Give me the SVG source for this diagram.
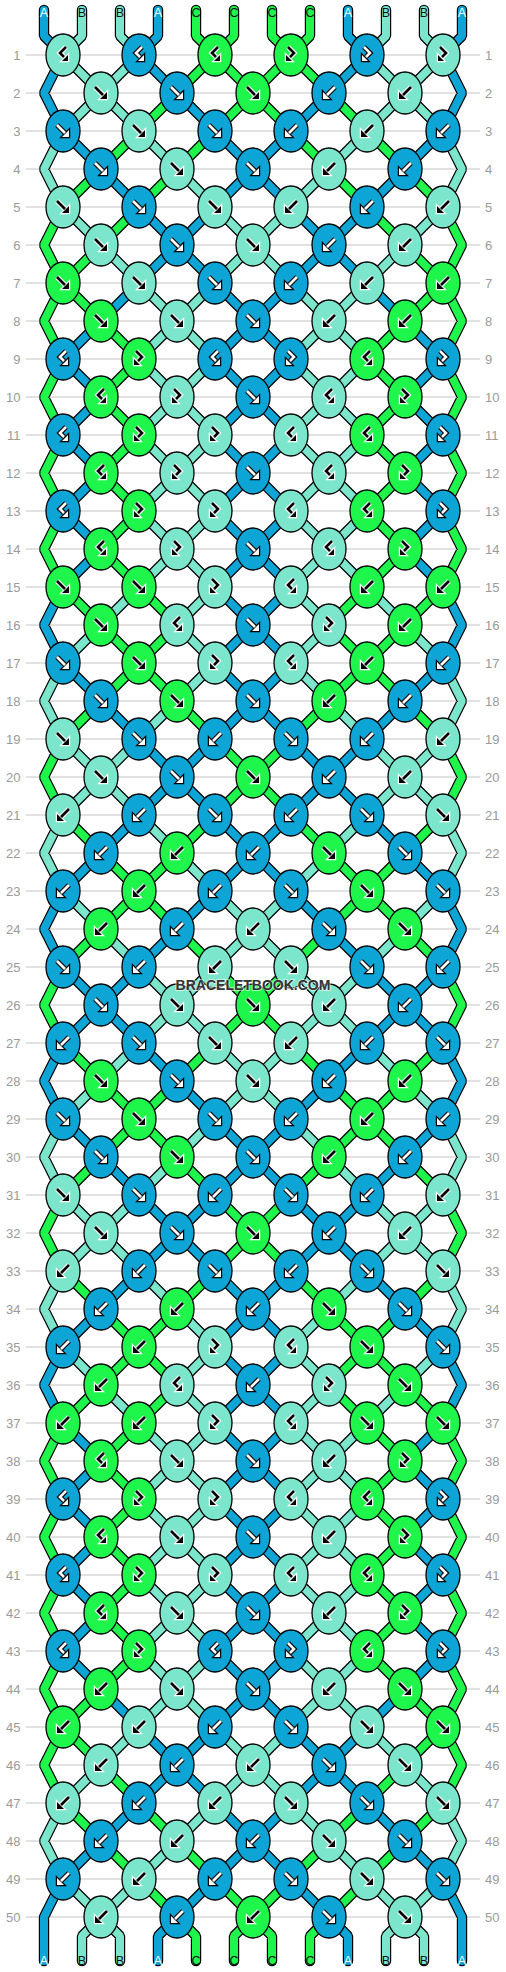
<svg xmlns="http://www.w3.org/2000/svg" xmlns:xlink="http://www.w3.org/1999/xlink" width="506" height="1972" viewBox="0 0 506 1972">
<style>
.a{fill:#0DA4D6}.b{fill:#7CE6CC}.c{fill:#1EF64B}
ellipse{stroke:#000;stroke-width:1.3}
.ol{fill:none;stroke:#000;stroke-width:10.4;stroke-linecap:round;stroke-linejoin:bevel}
.sa,.sb,.sc{fill:none;stroke-width:8;stroke-linecap:round;stroke-linejoin:bevel}
.sa{stroke:#0DA4D6}.sb{stroke:#7CE6CC}.sc{stroke:#1EF64B}
.so{fill:none;stroke:#000;stroke-width:5;stroke-linejoin:miter}
.ho{fill:#000;stroke:#000;stroke-width:2.4;stroke-linejoin:miter}
.si{fill:none;stroke:#fff;stroke-width:2.6;stroke-linejoin:miter}
.hi{fill:#fff}
.so2{fill:none;stroke:#fff;stroke-width:5;stroke-linejoin:miter}
.ho2{fill:#fff;stroke:#fff;stroke-width:2.4;stroke-linejoin:miter}
.si2{fill:none;stroke:#000;stroke-width:2.6;stroke-linejoin:miter}
.hi2{fill:#000}
.grid{fill:none;stroke:#c4c4c4;stroke-width:1}
.rl{font-family:"Liberation Sans",Arial,sans-serif;font-size:13px;fill:#9a9a9a}
.lt{font-family:"Liberation Sans",Arial,sans-serif;font-size:12.5px;text-anchor:middle}
.lw{fill:#fff}.lk{fill:#111}
.wm{font-family:"Liberation Sans",Arial,sans-serif;font-weight:bold;font-size:14px;fill:#333;text-anchor:middle;stroke:#fff;stroke-width:2;stroke-opacity:.6;paint-order:stroke}
</style>
<defs>
<path id="sF" d="M-6-6L2 2"/><path id="hF" d="M-1 6H6V-1Z"/>
<path id="sB" d="M6-6L-2 2"/><path id="hB" d="M1 6H-6V-1Z"/>
<path id="sFB" d="M-3-8L3-2L-1 2"/><path id="hFB" d="M1 6H-5V0Z"/>
<path id="sBF" d="M3-8L-3-2L1 2"/><path id="hBF" d="M-1 6H5V0Z"/>
<g id="wF"><use href="#sF" class="so"/><use href="#hF" class="ho"/><use href="#sF" class="si"/><use href="#hF" class="hi"/></g>
<g id="wB"><use href="#sB" class="so"/><use href="#hB" class="ho"/><use href="#sB" class="si"/><use href="#hB" class="hi"/></g>
<g id="wFB"><use href="#sFB" class="so"/><use href="#hFB" class="ho"/><use href="#sFB" class="si"/><use href="#hFB" class="hi"/></g>
<g id="wBF"><use href="#sBF" class="so"/><use href="#hBF" class="ho"/><use href="#sBF" class="si"/><use href="#hBF" class="hi"/></g>
<g id="kF"><use href="#sF" class="so2"/><use href="#hF" class="ho2"/><use href="#sF" class="si2"/><use href="#hF" class="hi2"/></g>
<g id="kB"><use href="#sB" class="so2"/><use href="#hB" class="ho2"/><use href="#sB" class="si2"/><use href="#hB" class="hi2"/></g>
<g id="kFB"><use href="#sFB" class="so2"/><use href="#hFB" class="ho2"/><use href="#sFB" class="si2"/><use href="#hFB" class="hi2"/></g>
<g id="kBF"><use href="#sBF" class="so2"/><use href="#hBF" class="ho2"/><use href="#sBF" class="si2"/><use href="#hBF" class="hi2"/></g>
<path id="pA" d="M44 10V36l19 19M158 10V36l-19 19M139 55l38 38M177 93l38 38M63 131l38 38M215 131l38 38M101 169l38 38M253 169l-38 38M139 207l38 38M215 207l-38 38M177 245l-38 38M177 245l38 38M139 283l-38 38M215 283l38 38M101 321l-38 38M253 321l-38 38M63 359l38 38M215 359l38 38M101 397l-38 38M253 397l-38 38M63 435l38 38M215 435l38 38M101 473l-38 38M253 473l-38 38M63 511l38 38M215 511l38 38M101 549l-38 38M253 549l-38 38M215 587l38 38M253 625l-38 38M63 663l38 38M215 663l38 38M101 701l38 38M253 701l-38 38M139 739l38 38M215 739l-38 38M177 777l-38 38M177 777l38 38M139 815l-38 38M215 815l38 38M101 853l-38 38M253 853l-38 38M215 891l-38 38M177 929l-38 38M63 967l38 38M139 967l-38 38M101 1005l-38 38M101 1005l38 38M139 1043l38 38M177 1081l38 38M63 1119l38 38M215 1119l38 38M101 1157l38 38M253 1157l-38 38M139 1195l38 38M215 1195l-38 38M177 1233l-38 38M177 1233l38 38M139 1271l-38 38M215 1271l38 38M101 1309l-38 38M253 1309l-38 38M215 1347l38 38M253 1385l-38 38M63 1423l38 38M215 1423l38 38M101 1461l-38 38M253 1461l-38 38M63 1499l38 38M215 1499l38 38M101 1537l-38 38M253 1537l-38 38M63 1575l38 38M215 1575l38 38M101 1613l-38 38M253 1613l-38 38M63 1651l38 38M215 1651l38 38M101 1689l38 38M253 1689l-38 38M139 1727l38 38M215 1727l-38 38M177 1765l-38 38M177 1765l38 38M139 1803l-38 38M215 1803l38 38M101 1841l-38 38M253 1841l-38 38M215 1879l-38 38M177 1917l-19 19V1961M63 55l-19 38l19 38M63 587l-19 38l19 38M63 891l-19 38l19 38M63 1043l-19 38l19 38M63 1347l-19 38l19 38M63 1879l-19 38V1961"/>
<path id="pB" d="M82 10V36l-19 19M120 10V36l19 19M63 55l38 38M139 55l-38 38M101 93l-38 38M101 93l38 38M139 131l38 38M177 169l38 38M63 207l38 38M215 207l38 38M101 245l38 38M253 245l-38 38M139 283l38 38M215 283l-38 38M177 321l-38 38M177 321l38 38M139 359l38 38M215 359l-38 38M177 397l-38 38M177 397l38 38M139 435l38 38M215 435l-38 38M177 473l-38 38M177 473l38 38M139 511l38 38M215 511l-38 38M177 549l-38 38M177 549l38 38M139 587l-38 38M215 587l-38 38M101 625l-38 38M177 625l38 38M215 663l-38 38M177 701l-38 38M63 739l38 38M139 739l-38 38M101 777l-38 38M101 777l38 38M139 815l38 38M177 853l38 38M63 891l38 38M215 891l38 38M101 929l38 38M253 929l-38 38M139 967l38 38M215 967l-38 38M177 1005l-38 38M177 1005l38 38M139 1043l-38 38M215 1043l38 38M101 1081l-38 38M253 1081l-38 38M215 1119l-38 38M177 1157l-38 38M63 1195l38 38M139 1195l-38 38M101 1233l-38 38M101 1233l38 38M139 1271l38 38M177 1309l38 38M63 1347l38 38M215 1347l-38 38M101 1385l38 38M177 1385l38 38M139 1423l38 38M215 1423l-38 38M177 1461l-38 38M177 1461l38 38M139 1499l38 38M215 1499l-38 38M177 1537l-38 38M177 1537l38 38M139 1575l38 38M215 1575l-38 38M177 1613l-38 38M177 1613l38 38M139 1651l38 38M215 1651l-38 38M177 1689l-38 38M177 1689l38 38M139 1727l-38 38M215 1727l38 38M101 1765l-38 38M253 1765l-38 38M215 1803l-38 38M177 1841l-38 38M63 1879l38 38M139 1879l-38 38M101 1917l-19 19V1961M101 1917l19 19V1961M63 131l-19 38l19 38M63 663l-19 38l19 38M63 815l-19 38l19 38M63 1119l-19 38l19 38M63 1271l-19 38l19 38M63 1803l-19 38l19 38"/>
<path id="pC" d="M196 10V36l19 19M234 10V36l-19 19M215 55l-38 38M215 55l38 38M177 93l-38 38M253 93l-38 38M139 131l-38 38M215 131l-38 38M101 169l-38 38M177 169l-38 38M139 207l-38 38M101 245l-38 38M63 283l38 38M101 321l38 38M139 359l-38 38M101 397l38 38M139 435l-38 38M101 473l38 38M139 511l-38 38M101 549l38 38M63 587l38 38M139 587l38 38M101 625l38 38M177 625l-38 38M139 663l-38 38M139 663l38 38M101 701l-38 38M177 701l38 38M215 739l38 38M253 777l-38 38M63 815l38 38M215 815l-38 38M101 853l38 38M177 853l-38 38M139 891l-38 38M139 891l38 38M101 929l-38 38M177 929l38 38M215 967l38 38M253 1005l-38 38M63 1043l38 38M215 1043l-38 38M101 1081l38 38M177 1081l-38 38M139 1119l-38 38M139 1119l38 38M101 1157l-38 38M177 1157l38 38M215 1195l38 38M253 1233l-38 38M63 1271l38 38M215 1271l-38 38M101 1309l38 38M177 1309l-38 38M139 1347l-38 38M139 1347l38 38M101 1385l-38 38M177 1385l-38 38M139 1423l-38 38M101 1461l38 38M139 1499l-38 38M101 1537l38 38M139 1575l-38 38M101 1613l38 38M139 1651l-38 38M101 1689l-38 38M63 1727l38 38M101 1765l38 38M63 1803l38 38M139 1803l38 38M101 1841l38 38M177 1841l38 38M139 1879l38 38M215 1879l38 38M177 1917l19 19V1961M253 1917l-19 19V1961M63 207l-19 38l19 38M63 283l-19 38l19 38M63 359l-19 38l19 38M63 435l-19 38l19 38M63 511l-19 38l19 38M63 739l-19 38l19 38M63 967l-19 38l19 38M63 1195l-19 38l19 38M63 1423l-19 38l19 38M63 1499l-19 38l19 38M63 1575l-19 38l19 38M63 1651l-19 38l19 38M63 1727l-19 38l19 38"/>
</defs>
<rect width="506" height="1972" fill="#fff"/>
<g id="rows">
<path class="grid" d="M26 55H480M26 93H480M26 131H480M26 169H480M26 207H480M26 245H480M26 283H480M26 321H480M26 359H480M26 397H480M26 435H480M26 473H480M26 511H480M26 549H480M26 587H480M26 625H480M26 663H480M26 701H480M26 739H480M26 777H480M26 815H480M26 853H480M26 891H480M26 929H480M26 967H480M26 1005H480M26 1043H480M26 1081H480M26 1119H480M26 1157H480M26 1195H480M26 1233H480M26 1271H480M26 1309H480M26 1347H480M26 1385H480M26 1423H480M26 1461H480M26 1499H480M26 1537H480M26 1575H480M26 1613H480M26 1651H480M26 1689H480M26 1727H480M26 1765H480M26 1803H480M26 1841H480M26 1879H480M26 1917H480"/>
<g class="rl" text-anchor="end">
<text x="20.5" y="60">1</text><text x="20.5" y="98">2</text><text x="20.5" y="136">3</text><text x="20.5" y="174">4</text><text x="20.5" y="212">5</text><text x="20.5" y="250">6</text><text x="20.5" y="288">7</text><text x="20.5" y="326">8</text><text x="20.5" y="364">9</text><text x="20.5" y="402">10</text><text x="20.5" y="440">11</text><text x="20.5" y="478">12</text><text x="20.5" y="516">13</text><text x="20.5" y="554">14</text><text x="20.5" y="592">15</text><text x="20.5" y="630">16</text><text x="20.5" y="668">17</text><text x="20.5" y="706">18</text><text x="20.5" y="744">19</text><text x="20.5" y="782">20</text><text x="20.5" y="820">21</text><text x="20.5" y="858">22</text><text x="20.5" y="896">23</text><text x="20.5" y="934">24</text><text x="20.5" y="972">25</text><text x="20.5" y="1010">26</text><text x="20.5" y="1048">27</text><text x="20.5" y="1086">28</text><text x="20.5" y="1124">29</text><text x="20.5" y="1162">30</text><text x="20.5" y="1200">31</text><text x="20.5" y="1238">32</text><text x="20.5" y="1276">33</text><text x="20.5" y="1314">34</text><text x="20.5" y="1352">35</text><text x="20.5" y="1390">36</text><text x="20.5" y="1428">37</text><text x="20.5" y="1466">38</text><text x="20.5" y="1504">39</text><text x="20.5" y="1542">40</text><text x="20.5" y="1580">41</text><text x="20.5" y="1618">42</text><text x="20.5" y="1656">43</text><text x="20.5" y="1694">44</text><text x="20.5" y="1732">45</text><text x="20.5" y="1770">46</text><text x="20.5" y="1808">47</text><text x="20.5" y="1846">48</text><text x="20.5" y="1884">49</text><text x="20.5" y="1922">50</text>
</g>
<g class="rl">
<text x="485" y="60">1</text><text x="485" y="98">2</text><text x="485" y="136">3</text><text x="485" y="174">4</text><text x="485" y="212">5</text><text x="485" y="250">6</text><text x="485" y="288">7</text><text x="485" y="326">8</text><text x="485" y="364">9</text><text x="485" y="402">10</text><text x="485" y="440">11</text><text x="485" y="478">12</text><text x="485" y="516">13</text><text x="485" y="554">14</text><text x="485" y="592">15</text><text x="485" y="630">16</text><text x="485" y="668">17</text><text x="485" y="706">18</text><text x="485" y="744">19</text><text x="485" y="782">20</text><text x="485" y="820">21</text><text x="485" y="858">22</text><text x="485" y="896">23</text><text x="485" y="934">24</text><text x="485" y="972">25</text><text x="485" y="1010">26</text><text x="485" y="1048">27</text><text x="485" y="1086">28</text><text x="485" y="1124">29</text><text x="485" y="1162">30</text><text x="485" y="1200">31</text><text x="485" y="1238">32</text><text x="485" y="1276">33</text><text x="485" y="1314">34</text><text x="485" y="1352">35</text><text x="485" y="1390">36</text><text x="485" y="1428">37</text><text x="485" y="1466">38</text><text x="485" y="1504">39</text><text x="485" y="1542">40</text><text x="485" y="1580">41</text><text x="485" y="1618">42</text><text x="485" y="1656">43</text><text x="485" y="1694">44</text><text x="485" y="1732">45</text><text x="485" y="1770">46</text><text x="485" y="1808">47</text><text x="485" y="1846">48</text><text x="485" y="1884">49</text><text x="485" y="1922">50</text>
</g>
</g>
<g id="connectors">
<g id="connL">
<use href="#pA" class="ol"/><use href="#pB" class="ol"/><use href="#pC" class="ol"/>
<use href="#pA" class="sa"/><use href="#pB" class="sb"/><use href="#pC" class="sc"/>
</g>
<use href="#connL" transform="matrix(-1 0 0 1 506 0)"/>
</g>
<g id="knots">
<g id="k1_1" transform="translate(63 55)"><ellipse class="b" rx="17" ry="21"/><use href="#kBF"/></g>
<g id="k1_2" transform="translate(139 55)"><ellipse class="a" rx="17" ry="21"/><use href="#wBF"/></g>
<g id="k1_3" transform="translate(215 55)"><ellipse class="c" rx="17" ry="21"/><use href="#kBF"/></g>
<g id="k1_4" transform="translate(291 55)"><ellipse class="c" rx="17" ry="21"/><use href="#kFB"/></g>
<g id="k1_5" transform="translate(367 55)"><ellipse class="a" rx="17" ry="21"/><use href="#wFB"/></g>
<g id="k1_6" transform="translate(443 55)"><ellipse class="b" rx="17" ry="21"/><use href="#kFB"/></g>
<g id="k2_1" transform="translate(101 93)"><ellipse class="b" rx="17" ry="21"/><use href="#kF"/></g>
<g id="k2_2" transform="translate(177 93)"><ellipse class="a" rx="17" ry="21"/><use href="#wF"/></g>
<g id="k2_3" transform="translate(253 93)"><ellipse class="c" rx="17" ry="21"/><use href="#kF"/></g>
<g id="k2_4" transform="translate(329 93)"><ellipse class="a" rx="17" ry="21"/><use href="#wB"/></g>
<g id="k2_5" transform="translate(405 93)"><ellipse class="b" rx="17" ry="21"/><use href="#kB"/></g>
<g id="k3_1" transform="translate(63 131)"><ellipse class="a" rx="17" ry="21"/><use href="#wF"/></g>
<g id="k3_2" transform="translate(139 131)"><ellipse class="b" rx="17" ry="21"/><use href="#kF"/></g>
<g id="k3_3" transform="translate(215 131)"><ellipse class="a" rx="17" ry="21"/><use href="#wF"/></g>
<g id="k3_4" transform="translate(291 131)"><ellipse class="a" rx="17" ry="21"/><use href="#wB"/></g>
<g id="k3_5" transform="translate(367 131)"><ellipse class="b" rx="17" ry="21"/><use href="#kB"/></g>
<g id="k3_6" transform="translate(443 131)"><ellipse class="a" rx="17" ry="21"/><use href="#wB"/></g>
<g id="k4_1" transform="translate(101 169)"><ellipse class="a" rx="17" ry="21"/><use href="#wF"/></g>
<g id="k4_2" transform="translate(177 169)"><ellipse class="b" rx="17" ry="21"/><use href="#kF"/></g>
<g id="k4_3" transform="translate(253 169)"><ellipse class="a" rx="17" ry="21"/><use href="#wF"/></g>
<g id="k4_4" transform="translate(329 169)"><ellipse class="b" rx="17" ry="21"/><use href="#kB"/></g>
<g id="k4_5" transform="translate(405 169)"><ellipse class="a" rx="17" ry="21"/><use href="#wB"/></g>
<g id="k5_1" transform="translate(63 207)"><ellipse class="b" rx="17" ry="21"/><use href="#kF"/></g>
<g id="k5_2" transform="translate(139 207)"><ellipse class="a" rx="17" ry="21"/><use href="#wF"/></g>
<g id="k5_3" transform="translate(215 207)"><ellipse class="b" rx="17" ry="21"/><use href="#kF"/></g>
<g id="k5_4" transform="translate(291 207)"><ellipse class="b" rx="17" ry="21"/><use href="#kB"/></g>
<g id="k5_5" transform="translate(367 207)"><ellipse class="a" rx="17" ry="21"/><use href="#wB"/></g>
<g id="k5_6" transform="translate(443 207)"><ellipse class="b" rx="17" ry="21"/><use href="#kB"/></g>
<g id="k6_1" transform="translate(101 245)"><ellipse class="b" rx="17" ry="21"/><use href="#kF"/></g>
<g id="k6_2" transform="translate(177 245)"><ellipse class="a" rx="17" ry="21"/><use href="#wF"/></g>
<g id="k6_3" transform="translate(253 245)"><ellipse class="b" rx="17" ry="21"/><use href="#kF"/></g>
<g id="k6_4" transform="translate(329 245)"><ellipse class="a" rx="17" ry="21"/><use href="#wB"/></g>
<g id="k6_5" transform="translate(405 245)"><ellipse class="b" rx="17" ry="21"/><use href="#kB"/></g>
<g id="k7_1" transform="translate(63 283)"><ellipse class="c" rx="17" ry="21"/><use href="#kF"/></g>
<g id="k7_2" transform="translate(139 283)"><ellipse class="b" rx="17" ry="21"/><use href="#kF"/></g>
<g id="k7_3" transform="translate(215 283)"><ellipse class="a" rx="17" ry="21"/><use href="#wF"/></g>
<g id="k7_4" transform="translate(291 283)"><ellipse class="a" rx="17" ry="21"/><use href="#wB"/></g>
<g id="k7_5" transform="translate(367 283)"><ellipse class="b" rx="17" ry="21"/><use href="#kB"/></g>
<g id="k7_6" transform="translate(443 283)"><ellipse class="c" rx="17" ry="21"/><use href="#kB"/></g>
<g id="k8_1" transform="translate(101 321)"><ellipse class="c" rx="17" ry="21"/><use href="#kF"/></g>
<g id="k8_2" transform="translate(177 321)"><ellipse class="b" rx="17" ry="21"/><use href="#kF"/></g>
<g id="k8_3" transform="translate(253 321)"><ellipse class="a" rx="17" ry="21"/><use href="#wF"/></g>
<g id="k8_4" transform="translate(329 321)"><ellipse class="b" rx="17" ry="21"/><use href="#kB"/></g>
<g id="k8_5" transform="translate(405 321)"><ellipse class="c" rx="17" ry="21"/><use href="#kB"/></g>
<g id="k9_1" transform="translate(63 359)"><ellipse class="a" rx="17" ry="21"/><use href="#wBF"/></g>
<g id="k9_2" transform="translate(139 359)"><ellipse class="c" rx="17" ry="21"/><use href="#kFB"/></g>
<g id="k9_3" transform="translate(215 359)"><ellipse class="a" rx="17" ry="21"/><use href="#wBF"/></g>
<g id="k9_4" transform="translate(291 359)"><ellipse class="a" rx="17" ry="21"/><use href="#wFB"/></g>
<g id="k9_5" transform="translate(367 359)"><ellipse class="c" rx="17" ry="21"/><use href="#kBF"/></g>
<g id="k9_6" transform="translate(443 359)"><ellipse class="a" rx="17" ry="21"/><use href="#wFB"/></g>
<g id="k10_1" transform="translate(101 397)"><ellipse class="c" rx="17" ry="21"/><use href="#kBF"/></g>
<g id="k10_2" transform="translate(177 397)"><ellipse class="b" rx="17" ry="21"/><use href="#kFB"/></g>
<g id="k10_3" transform="translate(253 397)"><ellipse class="a" rx="17" ry="21"/><use href="#wF"/></g>
<g id="k10_4" transform="translate(329 397)"><ellipse class="b" rx="17" ry="21"/><use href="#kBF"/></g>
<g id="k10_5" transform="translate(405 397)"><ellipse class="c" rx="17" ry="21"/><use href="#kFB"/></g>
<g id="k11_1" transform="translate(63 435)"><ellipse class="a" rx="17" ry="21"/><use href="#wBF"/></g>
<g id="k11_2" transform="translate(139 435)"><ellipse class="c" rx="17" ry="21"/><use href="#kFB"/></g>
<g id="k11_3" transform="translate(215 435)"><ellipse class="b" rx="17" ry="21"/><use href="#kFB"/></g>
<g id="k11_4" transform="translate(291 435)"><ellipse class="b" rx="17" ry="21"/><use href="#kBF"/></g>
<g id="k11_5" transform="translate(367 435)"><ellipse class="c" rx="17" ry="21"/><use href="#kBF"/></g>
<g id="k11_6" transform="translate(443 435)"><ellipse class="a" rx="17" ry="21"/><use href="#wFB"/></g>
<g id="k12_1" transform="translate(101 473)"><ellipse class="c" rx="17" ry="21"/><use href="#kBF"/></g>
<g id="k12_2" transform="translate(177 473)"><ellipse class="b" rx="17" ry="21"/><use href="#kFB"/></g>
<g id="k12_3" transform="translate(253 473)"><ellipse class="a" rx="17" ry="21"/><use href="#wF"/></g>
<g id="k12_4" transform="translate(329 473)"><ellipse class="b" rx="17" ry="21"/><use href="#kBF"/></g>
<g id="k12_5" transform="translate(405 473)"><ellipse class="c" rx="17" ry="21"/><use href="#kFB"/></g>
<g id="k13_1" transform="translate(63 511)"><ellipse class="a" rx="17" ry="21"/><use href="#wBF"/></g>
<g id="k13_2" transform="translate(139 511)"><ellipse class="c" rx="17" ry="21"/><use href="#kFB"/></g>
<g id="k13_3" transform="translate(215 511)"><ellipse class="b" rx="17" ry="21"/><use href="#kFB"/></g>
<g id="k13_4" transform="translate(291 511)"><ellipse class="b" rx="17" ry="21"/><use href="#kBF"/></g>
<g id="k13_5" transform="translate(367 511)"><ellipse class="c" rx="17" ry="21"/><use href="#kBF"/></g>
<g id="k13_6" transform="translate(443 511)"><ellipse class="a" rx="17" ry="21"/><use href="#wFB"/></g>
<g id="k14_1" transform="translate(101 549)"><ellipse class="c" rx="17" ry="21"/><use href="#kBF"/></g>
<g id="k14_2" transform="translate(177 549)"><ellipse class="b" rx="17" ry="21"/><use href="#kFB"/></g>
<g id="k14_3" transform="translate(253 549)"><ellipse class="a" rx="17" ry="21"/><use href="#wF"/></g>
<g id="k14_4" transform="translate(329 549)"><ellipse class="b" rx="17" ry="21"/><use href="#kBF"/></g>
<g id="k14_5" transform="translate(405 549)"><ellipse class="c" rx="17" ry="21"/><use href="#kFB"/></g>
<g id="k15_1" transform="translate(63 587)"><ellipse class="c" rx="17" ry="21"/><use href="#kF"/></g>
<g id="k15_2" transform="translate(139 587)"><ellipse class="c" rx="17" ry="21"/><use href="#kF"/></g>
<g id="k15_3" transform="translate(215 587)"><ellipse class="b" rx="17" ry="21"/><use href="#kFB"/></g>
<g id="k15_4" transform="translate(291 587)"><ellipse class="b" rx="17" ry="21"/><use href="#kBF"/></g>
<g id="k15_5" transform="translate(367 587)"><ellipse class="c" rx="17" ry="21"/><use href="#kB"/></g>
<g id="k15_6" transform="translate(443 587)"><ellipse class="c" rx="17" ry="21"/><use href="#kB"/></g>
<g id="k16_1" transform="translate(101 625)"><ellipse class="c" rx="17" ry="21"/><use href="#kF"/></g>
<g id="k16_2" transform="translate(177 625)"><ellipse class="b" rx="17" ry="21"/><use href="#kBF"/></g>
<g id="k16_3" transform="translate(253 625)"><ellipse class="a" rx="17" ry="21"/><use href="#wF"/></g>
<g id="k16_4" transform="translate(329 625)"><ellipse class="b" rx="17" ry="21"/><use href="#kFB"/></g>
<g id="k16_5" transform="translate(405 625)"><ellipse class="c" rx="17" ry="21"/><use href="#kB"/></g>
<g id="k17_1" transform="translate(63 663)"><ellipse class="a" rx="17" ry="21"/><use href="#wF"/></g>
<g id="k17_2" transform="translate(139 663)"><ellipse class="c" rx="17" ry="21"/><use href="#kF"/></g>
<g id="k17_3" transform="translate(215 663)"><ellipse class="b" rx="17" ry="21"/><use href="#kFB"/></g>
<g id="k17_4" transform="translate(291 663)"><ellipse class="b" rx="17" ry="21"/><use href="#kBF"/></g>
<g id="k17_5" transform="translate(367 663)"><ellipse class="c" rx="17" ry="21"/><use href="#kB"/></g>
<g id="k17_6" transform="translate(443 663)"><ellipse class="a" rx="17" ry="21"/><use href="#wB"/></g>
<g id="k18_1" transform="translate(101 701)"><ellipse class="a" rx="17" ry="21"/><use href="#wF"/></g>
<g id="k18_2" transform="translate(177 701)"><ellipse class="c" rx="17" ry="21"/><use href="#kF"/></g>
<g id="k18_3" transform="translate(253 701)"><ellipse class="a" rx="17" ry="21"/><use href="#wF"/></g>
<g id="k18_4" transform="translate(329 701)"><ellipse class="c" rx="17" ry="21"/><use href="#kB"/></g>
<g id="k18_5" transform="translate(405 701)"><ellipse class="a" rx="17" ry="21"/><use href="#wB"/></g>
<g id="k19_1" transform="translate(63 739)"><ellipse class="b" rx="17" ry="21"/><use href="#kF"/></g>
<g id="k19_2" transform="translate(139 739)"><ellipse class="a" rx="17" ry="21"/><use href="#wF"/></g>
<g id="k19_3" transform="translate(215 739)"><ellipse class="a" rx="17" ry="21"/><use href="#wB"/></g>
<g id="k19_4" transform="translate(291 739)"><ellipse class="a" rx="17" ry="21"/><use href="#wF"/></g>
<g id="k19_5" transform="translate(367 739)"><ellipse class="a" rx="17" ry="21"/><use href="#wB"/></g>
<g id="k19_6" transform="translate(443 739)"><ellipse class="b" rx="17" ry="21"/><use href="#kB"/></g>
<g id="k20_1" transform="translate(101 777)"><ellipse class="b" rx="17" ry="21"/><use href="#kF"/></g>
<g id="k20_2" transform="translate(177 777)"><ellipse class="a" rx="17" ry="21"/><use href="#wF"/></g>
<g id="k20_3" transform="translate(253 777)"><ellipse class="c" rx="17" ry="21"/><use href="#kF"/></g>
<g id="k20_4" transform="translate(329 777)"><ellipse class="a" rx="17" ry="21"/><use href="#wB"/></g>
<g id="k20_5" transform="translate(405 777)"><ellipse class="b" rx="17" ry="21"/><use href="#kB"/></g>
<g id="k21_1" transform="translate(63 815)"><ellipse class="b" rx="17" ry="21"/><use href="#kB"/></g>
<g id="k21_2" transform="translate(139 815)"><ellipse class="a" rx="17" ry="21"/><use href="#wB"/></g>
<g id="k21_3" transform="translate(215 815)"><ellipse class="a" rx="17" ry="21"/><use href="#wF"/></g>
<g id="k21_4" transform="translate(291 815)"><ellipse class="a" rx="17" ry="21"/><use href="#wB"/></g>
<g id="k21_5" transform="translate(367 815)"><ellipse class="a" rx="17" ry="21"/><use href="#wF"/></g>
<g id="k21_6" transform="translate(443 815)"><ellipse class="b" rx="17" ry="21"/><use href="#kF"/></g>
<g id="k22_1" transform="translate(101 853)"><ellipse class="a" rx="17" ry="21"/><use href="#wB"/></g>
<g id="k22_2" transform="translate(177 853)"><ellipse class="c" rx="17" ry="21"/><use href="#kB"/></g>
<g id="k22_3" transform="translate(253 853)"><ellipse class="a" rx="17" ry="21"/><use href="#wB"/></g>
<g id="k22_4" transform="translate(329 853)"><ellipse class="c" rx="17" ry="21"/><use href="#kF"/></g>
<g id="k22_5" transform="translate(405 853)"><ellipse class="a" rx="17" ry="21"/><use href="#wF"/></g>
<g id="k23_1" transform="translate(63 891)"><ellipse class="a" rx="17" ry="21"/><use href="#wB"/></g>
<g id="k23_2" transform="translate(139 891)"><ellipse class="c" rx="17" ry="21"/><use href="#kB"/></g>
<g id="k23_3" transform="translate(215 891)"><ellipse class="a" rx="17" ry="21"/><use href="#wB"/></g>
<g id="k23_4" transform="translate(291 891)"><ellipse class="a" rx="17" ry="21"/><use href="#wF"/></g>
<g id="k23_5" transform="translate(367 891)"><ellipse class="c" rx="17" ry="21"/><use href="#kF"/></g>
<g id="k23_6" transform="translate(443 891)"><ellipse class="a" rx="17" ry="21"/><use href="#wF"/></g>
<g id="k24_1" transform="translate(101 929)"><ellipse class="c" rx="17" ry="21"/><use href="#kB"/></g>
<g id="k24_2" transform="translate(177 929)"><ellipse class="a" rx="17" ry="21"/><use href="#wB"/></g>
<g id="k24_3" transform="translate(253 929)"><ellipse class="b" rx="17" ry="21"/><use href="#kB"/></g>
<g id="k24_4" transform="translate(329 929)"><ellipse class="a" rx="17" ry="21"/><use href="#wF"/></g>
<g id="k24_5" transform="translate(405 929)"><ellipse class="c" rx="17" ry="21"/><use href="#kF"/></g>
<g id="k25_1" transform="translate(63 967)"><ellipse class="a" rx="17" ry="21"/><use href="#wF"/></g>
<g id="k25_2" transform="translate(139 967)"><ellipse class="a" rx="17" ry="21"/><use href="#wB"/></g>
<g id="k25_3" transform="translate(215 967)"><ellipse class="b" rx="17" ry="21"/><use href="#kB"/></g>
<g id="k25_4" transform="translate(291 967)"><ellipse class="b" rx="17" ry="21"/><use href="#kF"/></g>
<g id="k25_5" transform="translate(367 967)"><ellipse class="a" rx="17" ry="21"/><use href="#wF"/></g>
<g id="k25_6" transform="translate(443 967)"><ellipse class="a" rx="17" ry="21"/><use href="#wB"/></g>
<g id="k26_1" transform="translate(101 1005)"><ellipse class="a" rx="17" ry="21"/><use href="#wF"/></g>
<g id="k26_2" transform="translate(177 1005)"><ellipse class="b" rx="17" ry="21"/><use href="#kF"/></g>
<g id="k26_3" transform="translate(253 1005)"><ellipse class="c" rx="17" ry="21"/><use href="#kF"/></g>
<g id="k26_4" transform="translate(329 1005)"><ellipse class="b" rx="17" ry="21"/><use href="#kB"/></g>
<g id="k26_5" transform="translate(405 1005)"><ellipse class="a" rx="17" ry="21"/><use href="#wB"/></g>
<g id="k27_1" transform="translate(63 1043)"><ellipse class="a" rx="17" ry="21"/><use href="#wB"/></g>
<g id="k27_2" transform="translate(139 1043)"><ellipse class="a" rx="17" ry="21"/><use href="#wF"/></g>
<g id="k27_3" transform="translate(215 1043)"><ellipse class="b" rx="17" ry="21"/><use href="#kF"/></g>
<g id="k27_4" transform="translate(291 1043)"><ellipse class="b" rx="17" ry="21"/><use href="#kB"/></g>
<g id="k27_5" transform="translate(367 1043)"><ellipse class="a" rx="17" ry="21"/><use href="#wB"/></g>
<g id="k27_6" transform="translate(443 1043)"><ellipse class="a" rx="17" ry="21"/><use href="#wF"/></g>
<g id="k28_1" transform="translate(101 1081)"><ellipse class="c" rx="17" ry="21"/><use href="#kF"/></g>
<g id="k28_2" transform="translate(177 1081)"><ellipse class="a" rx="17" ry="21"/><use href="#wF"/></g>
<g id="k28_3" transform="translate(253 1081)"><ellipse class="b" rx="17" ry="21"/><use href="#kF"/></g>
<g id="k28_4" transform="translate(329 1081)"><ellipse class="a" rx="17" ry="21"/><use href="#wB"/></g>
<g id="k28_5" transform="translate(405 1081)"><ellipse class="c" rx="17" ry="21"/><use href="#kB"/></g>
<g id="k29_1" transform="translate(63 1119)"><ellipse class="a" rx="17" ry="21"/><use href="#wF"/></g>
<g id="k29_2" transform="translate(139 1119)"><ellipse class="c" rx="17" ry="21"/><use href="#kF"/></g>
<g id="k29_3" transform="translate(215 1119)"><ellipse class="a" rx="17" ry="21"/><use href="#wF"/></g>
<g id="k29_4" transform="translate(291 1119)"><ellipse class="a" rx="17" ry="21"/><use href="#wB"/></g>
<g id="k29_5" transform="translate(367 1119)"><ellipse class="c" rx="17" ry="21"/><use href="#kB"/></g>
<g id="k29_6" transform="translate(443 1119)"><ellipse class="a" rx="17" ry="21"/><use href="#wB"/></g>
<g id="k30_1" transform="translate(101 1157)"><ellipse class="a" rx="17" ry="21"/><use href="#wF"/></g>
<g id="k30_2" transform="translate(177 1157)"><ellipse class="c" rx="17" ry="21"/><use href="#kF"/></g>
<g id="k30_3" transform="translate(253 1157)"><ellipse class="a" rx="17" ry="21"/><use href="#wF"/></g>
<g id="k30_4" transform="translate(329 1157)"><ellipse class="c" rx="17" ry="21"/><use href="#kB"/></g>
<g id="k30_5" transform="translate(405 1157)"><ellipse class="a" rx="17" ry="21"/><use href="#wB"/></g>
<g id="k31_1" transform="translate(63 1195)"><ellipse class="b" rx="17" ry="21"/><use href="#kF"/></g>
<g id="k31_2" transform="translate(139 1195)"><ellipse class="a" rx="17" ry="21"/><use href="#wF"/></g>
<g id="k31_3" transform="translate(215 1195)"><ellipse class="a" rx="17" ry="21"/><use href="#wB"/></g>
<g id="k31_4" transform="translate(291 1195)"><ellipse class="a" rx="17" ry="21"/><use href="#wF"/></g>
<g id="k31_5" transform="translate(367 1195)"><ellipse class="a" rx="17" ry="21"/><use href="#wB"/></g>
<g id="k31_6" transform="translate(443 1195)"><ellipse class="b" rx="17" ry="21"/><use href="#kB"/></g>
<g id="k32_1" transform="translate(101 1233)"><ellipse class="b" rx="17" ry="21"/><use href="#kF"/></g>
<g id="k32_2" transform="translate(177 1233)"><ellipse class="a" rx="17" ry="21"/><use href="#wF"/></g>
<g id="k32_3" transform="translate(253 1233)"><ellipse class="c" rx="17" ry="21"/><use href="#kF"/></g>
<g id="k32_4" transform="translate(329 1233)"><ellipse class="a" rx="17" ry="21"/><use href="#wB"/></g>
<g id="k32_5" transform="translate(405 1233)"><ellipse class="b" rx="17" ry="21"/><use href="#kB"/></g>
<g id="k33_1" transform="translate(63 1271)"><ellipse class="b" rx="17" ry="21"/><use href="#kB"/></g>
<g id="k33_2" transform="translate(139 1271)"><ellipse class="a" rx="17" ry="21"/><use href="#wB"/></g>
<g id="k33_3" transform="translate(215 1271)"><ellipse class="a" rx="17" ry="21"/><use href="#wF"/></g>
<g id="k33_4" transform="translate(291 1271)"><ellipse class="a" rx="17" ry="21"/><use href="#wB"/></g>
<g id="k33_5" transform="translate(367 1271)"><ellipse class="a" rx="17" ry="21"/><use href="#wF"/></g>
<g id="k33_6" transform="translate(443 1271)"><ellipse class="b" rx="17" ry="21"/><use href="#kF"/></g>
<g id="k34_1" transform="translate(101 1309)"><ellipse class="a" rx="17" ry="21"/><use href="#wB"/></g>
<g id="k34_2" transform="translate(177 1309)"><ellipse class="c" rx="17" ry="21"/><use href="#kB"/></g>
<g id="k34_3" transform="translate(253 1309)"><ellipse class="a" rx="17" ry="21"/><use href="#wB"/></g>
<g id="k34_4" transform="translate(329 1309)"><ellipse class="c" rx="17" ry="21"/><use href="#kF"/></g>
<g id="k34_5" transform="translate(405 1309)"><ellipse class="a" rx="17" ry="21"/><use href="#wF"/></g>
<g id="k35_1" transform="translate(63 1347)"><ellipse class="a" rx="17" ry="21"/><use href="#wB"/></g>
<g id="k35_2" transform="translate(139 1347)"><ellipse class="c" rx="17" ry="21"/><use href="#kB"/></g>
<g id="k35_3" transform="translate(215 1347)"><ellipse class="b" rx="17" ry="21"/><use href="#kFB"/></g>
<g id="k35_4" transform="translate(291 1347)"><ellipse class="b" rx="17" ry="21"/><use href="#kBF"/></g>
<g id="k35_5" transform="translate(367 1347)"><ellipse class="c" rx="17" ry="21"/><use href="#kF"/></g>
<g id="k35_6" transform="translate(443 1347)"><ellipse class="a" rx="17" ry="21"/><use href="#wF"/></g>
<g id="k36_1" transform="translate(101 1385)"><ellipse class="c" rx="17" ry="21"/><use href="#kB"/></g>
<g id="k36_2" transform="translate(177 1385)"><ellipse class="b" rx="17" ry="21"/><use href="#kBF"/></g>
<g id="k36_3" transform="translate(253 1385)"><ellipse class="a" rx="17" ry="21"/><use href="#wB"/></g>
<g id="k36_4" transform="translate(329 1385)"><ellipse class="b" rx="17" ry="21"/><use href="#kFB"/></g>
<g id="k36_5" transform="translate(405 1385)"><ellipse class="c" rx="17" ry="21"/><use href="#kF"/></g>
<g id="k37_1" transform="translate(63 1423)"><ellipse class="c" rx="17" ry="21"/><use href="#kB"/></g>
<g id="k37_2" transform="translate(139 1423)"><ellipse class="c" rx="17" ry="21"/><use href="#kB"/></g>
<g id="k37_3" transform="translate(215 1423)"><ellipse class="b" rx="17" ry="21"/><use href="#kFB"/></g>
<g id="k37_4" transform="translate(291 1423)"><ellipse class="b" rx="17" ry="21"/><use href="#kBF"/></g>
<g id="k37_5" transform="translate(367 1423)"><ellipse class="c" rx="17" ry="21"/><use href="#kF"/></g>
<g id="k37_6" transform="translate(443 1423)"><ellipse class="c" rx="17" ry="21"/><use href="#kF"/></g>
<g id="k38_1" transform="translate(101 1461)"><ellipse class="c" rx="17" ry="21"/><use href="#kBF"/></g>
<g id="k38_2" transform="translate(177 1461)"><ellipse class="b" rx="17" ry="21"/><use href="#kF"/></g>
<g id="k38_3" transform="translate(253 1461)"><ellipse class="a" rx="17" ry="21"/><use href="#wF"/></g>
<g id="k38_4" transform="translate(329 1461)"><ellipse class="b" rx="17" ry="21"/><use href="#kB"/></g>
<g id="k38_5" transform="translate(405 1461)"><ellipse class="c" rx="17" ry="21"/><use href="#kFB"/></g>
<g id="k39_1" transform="translate(63 1499)"><ellipse class="a" rx="17" ry="21"/><use href="#wBF"/></g>
<g id="k39_2" transform="translate(139 1499)"><ellipse class="c" rx="17" ry="21"/><use href="#kFB"/></g>
<g id="k39_3" transform="translate(215 1499)"><ellipse class="b" rx="17" ry="21"/><use href="#kFB"/></g>
<g id="k39_4" transform="translate(291 1499)"><ellipse class="b" rx="17" ry="21"/><use href="#kBF"/></g>
<g id="k39_5" transform="translate(367 1499)"><ellipse class="c" rx="17" ry="21"/><use href="#kBF"/></g>
<g id="k39_6" transform="translate(443 1499)"><ellipse class="a" rx="17" ry="21"/><use href="#wFB"/></g>
<g id="k40_1" transform="translate(101 1537)"><ellipse class="c" rx="17" ry="21"/><use href="#kBF"/></g>
<g id="k40_2" transform="translate(177 1537)"><ellipse class="b" rx="17" ry="21"/><use href="#kF"/></g>
<g id="k40_3" transform="translate(253 1537)"><ellipse class="a" rx="17" ry="21"/><use href="#wF"/></g>
<g id="k40_4" transform="translate(329 1537)"><ellipse class="b" rx="17" ry="21"/><use href="#kB"/></g>
<g id="k40_5" transform="translate(405 1537)"><ellipse class="c" rx="17" ry="21"/><use href="#kFB"/></g>
<g id="k41_1" transform="translate(63 1575)"><ellipse class="a" rx="17" ry="21"/><use href="#wBF"/></g>
<g id="k41_2" transform="translate(139 1575)"><ellipse class="c" rx="17" ry="21"/><use href="#kFB"/></g>
<g id="k41_3" transform="translate(215 1575)"><ellipse class="b" rx="17" ry="21"/><use href="#kFB"/></g>
<g id="k41_4" transform="translate(291 1575)"><ellipse class="b" rx="17" ry="21"/><use href="#kBF"/></g>
<g id="k41_5" transform="translate(367 1575)"><ellipse class="c" rx="17" ry="21"/><use href="#kBF"/></g>
<g id="k41_6" transform="translate(443 1575)"><ellipse class="a" rx="17" ry="21"/><use href="#wFB"/></g>
<g id="k42_1" transform="translate(101 1613)"><ellipse class="c" rx="17" ry="21"/><use href="#kBF"/></g>
<g id="k42_2" transform="translate(177 1613)"><ellipse class="b" rx="17" ry="21"/><use href="#kF"/></g>
<g id="k42_3" transform="translate(253 1613)"><ellipse class="a" rx="17" ry="21"/><use href="#wF"/></g>
<g id="k42_4" transform="translate(329 1613)"><ellipse class="b" rx="17" ry="21"/><use href="#kB"/></g>
<g id="k42_5" transform="translate(405 1613)"><ellipse class="c" rx="17" ry="21"/><use href="#kFB"/></g>
<g id="k43_1" transform="translate(63 1651)"><ellipse class="a" rx="17" ry="21"/><use href="#wBF"/></g>
<g id="k43_2" transform="translate(139 1651)"><ellipse class="c" rx="17" ry="21"/><use href="#kFB"/></g>
<g id="k43_3" transform="translate(215 1651)"><ellipse class="a" rx="17" ry="21"/><use href="#wBF"/></g>
<g id="k43_4" transform="translate(291 1651)"><ellipse class="a" rx="17" ry="21"/><use href="#wFB"/></g>
<g id="k43_5" transform="translate(367 1651)"><ellipse class="c" rx="17" ry="21"/><use href="#kBF"/></g>
<g id="k43_6" transform="translate(443 1651)"><ellipse class="a" rx="17" ry="21"/><use href="#wFB"/></g>
<g id="k44_1" transform="translate(101 1689)"><ellipse class="c" rx="17" ry="21"/><use href="#kB"/></g>
<g id="k44_2" transform="translate(177 1689)"><ellipse class="b" rx="17" ry="21"/><use href="#kF"/></g>
<g id="k44_3" transform="translate(253 1689)"><ellipse class="a" rx="17" ry="21"/><use href="#wF"/></g>
<g id="k44_4" transform="translate(329 1689)"><ellipse class="b" rx="17" ry="21"/><use href="#kB"/></g>
<g id="k44_5" transform="translate(405 1689)"><ellipse class="c" rx="17" ry="21"/><use href="#kF"/></g>
<g id="k45_1" transform="translate(63 1727)"><ellipse class="c" rx="17" ry="21"/><use href="#kB"/></g>
<g id="k45_2" transform="translate(139 1727)"><ellipse class="b" rx="17" ry="21"/><use href="#kB"/></g>
<g id="k45_3" transform="translate(215 1727)"><ellipse class="a" rx="17" ry="21"/><use href="#wB"/></g>
<g id="k45_4" transform="translate(291 1727)"><ellipse class="a" rx="17" ry="21"/><use href="#wF"/></g>
<g id="k45_5" transform="translate(367 1727)"><ellipse class="b" rx="17" ry="21"/><use href="#kF"/></g>
<g id="k45_6" transform="translate(443 1727)"><ellipse class="c" rx="17" ry="21"/><use href="#kF"/></g>
<g id="k46_1" transform="translate(101 1765)"><ellipse class="b" rx="17" ry="21"/><use href="#kB"/></g>
<g id="k46_2" transform="translate(177 1765)"><ellipse class="a" rx="17" ry="21"/><use href="#wB"/></g>
<g id="k46_3" transform="translate(253 1765)"><ellipse class="b" rx="17" ry="21"/><use href="#kB"/></g>
<g id="k46_4" transform="translate(329 1765)"><ellipse class="a" rx="17" ry="21"/><use href="#wF"/></g>
<g id="k46_5" transform="translate(405 1765)"><ellipse class="b" rx="17" ry="21"/><use href="#kF"/></g>
<g id="k47_1" transform="translate(63 1803)"><ellipse class="b" rx="17" ry="21"/><use href="#kB"/></g>
<g id="k47_2" transform="translate(139 1803)"><ellipse class="a" rx="17" ry="21"/><use href="#wB"/></g>
<g id="k47_3" transform="translate(215 1803)"><ellipse class="b" rx="17" ry="21"/><use href="#kB"/></g>
<g id="k47_4" transform="translate(291 1803)"><ellipse class="b" rx="17" ry="21"/><use href="#kF"/></g>
<g id="k47_5" transform="translate(367 1803)"><ellipse class="a" rx="17" ry="21"/><use href="#wF"/></g>
<g id="k47_6" transform="translate(443 1803)"><ellipse class="b" rx="17" ry="21"/><use href="#kF"/></g>
<g id="k48_1" transform="translate(101 1841)"><ellipse class="a" rx="17" ry="21"/><use href="#wB"/></g>
<g id="k48_2" transform="translate(177 1841)"><ellipse class="b" rx="17" ry="21"/><use href="#kB"/></g>
<g id="k48_3" transform="translate(253 1841)"><ellipse class="a" rx="17" ry="21"/><use href="#wB"/></g>
<g id="k48_4" transform="translate(329 1841)"><ellipse class="b" rx="17" ry="21"/><use href="#kF"/></g>
<g id="k48_5" transform="translate(405 1841)"><ellipse class="a" rx="17" ry="21"/><use href="#wF"/></g>
<g id="k49_1" transform="translate(63 1879)"><ellipse class="a" rx="17" ry="21"/><use href="#wB"/></g>
<g id="k49_2" transform="translate(139 1879)"><ellipse class="b" rx="17" ry="21"/><use href="#kB"/></g>
<g id="k49_3" transform="translate(215 1879)"><ellipse class="a" rx="17" ry="21"/><use href="#wB"/></g>
<g id="k49_4" transform="translate(291 1879)"><ellipse class="a" rx="17" ry="21"/><use href="#wF"/></g>
<g id="k49_5" transform="translate(367 1879)"><ellipse class="b" rx="17" ry="21"/><use href="#kF"/></g>
<g id="k49_6" transform="translate(443 1879)"><ellipse class="a" rx="17" ry="21"/><use href="#wF"/></g>
<g id="k50_1" transform="translate(101 1917)"><ellipse class="b" rx="17" ry="21"/><use href="#kB"/></g>
<g id="k50_2" transform="translate(177 1917)"><ellipse class="a" rx="17" ry="21"/><use href="#wB"/></g>
<g id="k50_3" transform="translate(253 1917)"><ellipse class="c" rx="17" ry="21"/><use href="#kB"/></g>
<g id="k50_4" transform="translate(329 1917)"><ellipse class="a" rx="17" ry="21"/><use href="#wF"/></g>
<g id="k50_5" transform="translate(405 1917)"><ellipse class="b" rx="17" ry="21"/><use href="#kF"/></g>
</g>
<g id="string-labels" class="lt">
<text class="lw" x="44" y="17">A</text><text class="lk" x="82" y="17">B</text><text class="lk" x="120" y="17">B</text><text class="lw" x="158" y="17">A</text><text class="lk" x="196" y="17">C</text><text class="lk" x="234" y="17">C</text><text class="lk" x="272" y="17">C</text><text class="lk" x="310" y="17">C</text><text class="lw" x="348" y="17">A</text><text class="lk" x="386" y="17">B</text><text class="lk" x="424" y="17">B</text><text class="lw" x="462" y="17">A</text>
<text class="lw" x="44" y="1965">A</text><text class="lk" x="82" y="1965">B</text><text class="lk" x="120" y="1965">B</text><text class="lw" x="158" y="1965">A</text><text class="lk" x="196" y="1965">C</text><text class="lk" x="234" y="1965">C</text><text class="lk" x="272" y="1965">C</text><text class="lk" x="310" y="1965">C</text><text class="lw" x="348" y="1965">A</text><text class="lk" x="386" y="1965">B</text><text class="lk" x="424" y="1965">B</text><text class="lw" x="462" y="1965">A</text>
</g>
<text class="wm" x="253" y="990">BRACELETBOOK.COM</text>
</svg>
